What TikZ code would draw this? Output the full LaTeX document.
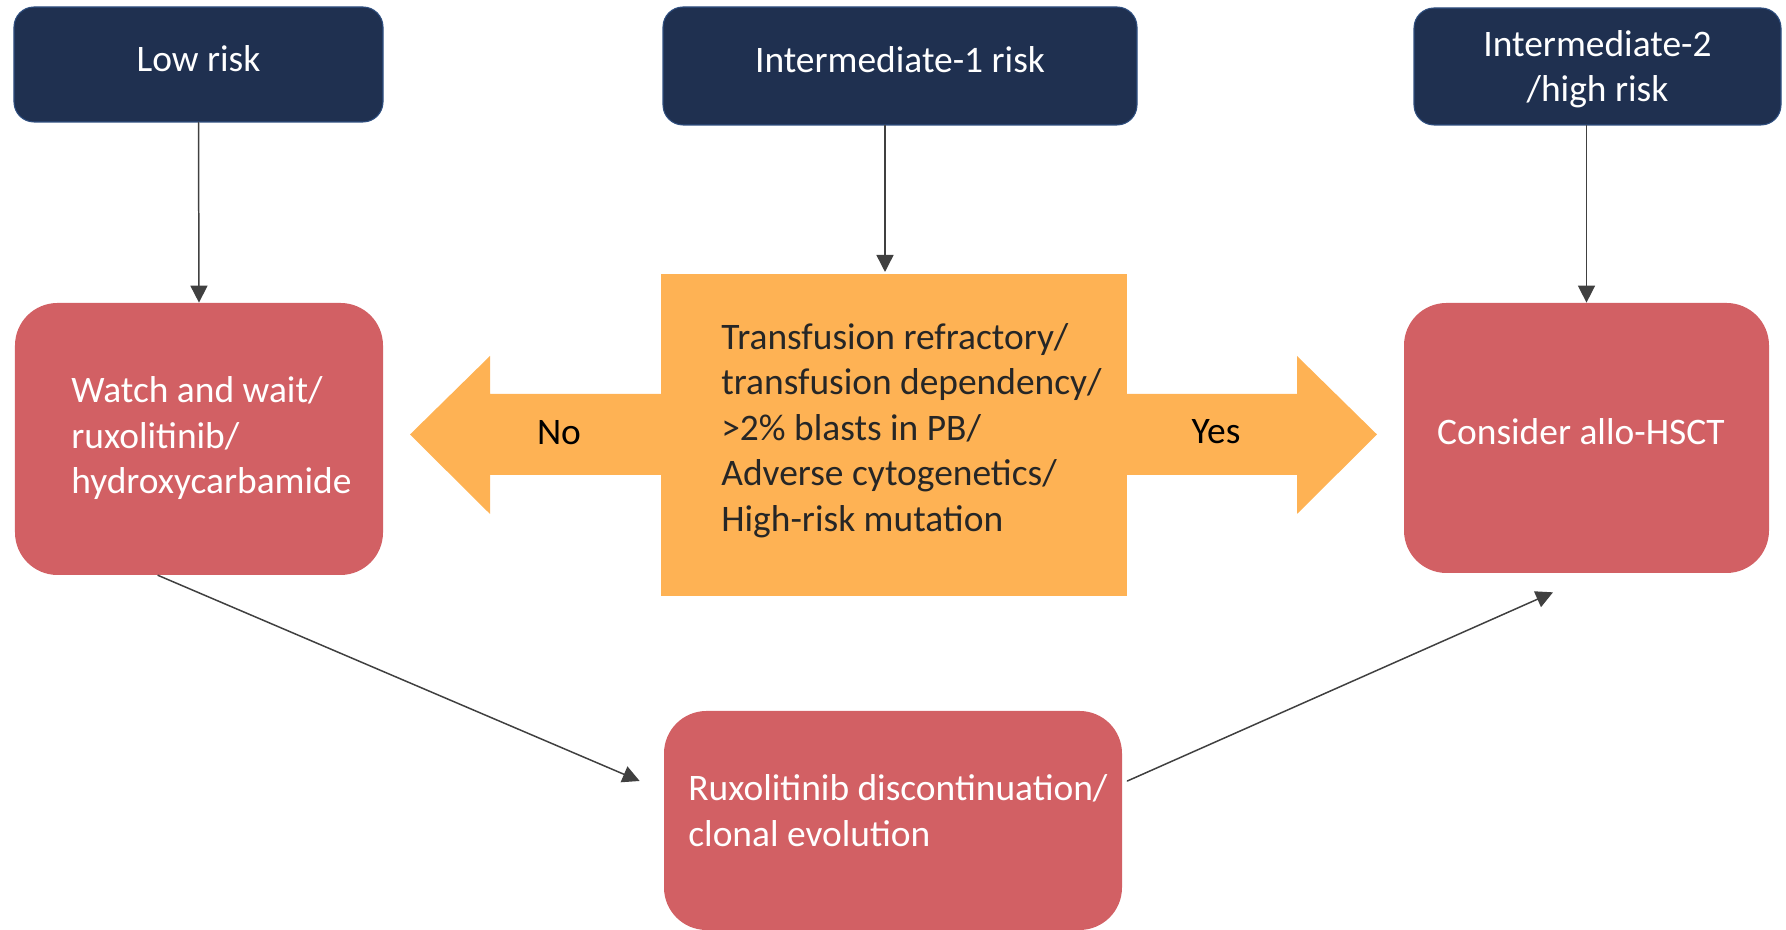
\documentclass[tikz,border=0pt]{standalone}
\usepackage{fontspec}
\setmainfont{Carlito}
\usepackage{tikz}
\usetikzlibrary{arrows.meta,calc}
\definecolor{navy}{HTML}{1F3050}
\definecolor{navyedge}{HTML}{2F4F80}
\definecolor{redbox}{HTML}{D26064}
\definecolor{orangebox}{HTML}{FEB254}
\definecolor{linegray}{HTML}{404040}
\tikzset{
  riskbox/.style={rectangle,rounded corners=0.4cm,fill=navy,draw=navyedge,line width=0.6pt,
    text=white,align=center,inner sep=0pt},
  actbox/.style={rectangle,rounded corners=0.85cm,fill=redbox,text=white,align=center,inner sep=0pt},
  decbox/.style={rectangle,fill=orangebox,inner sep=0pt},
  conn/.style={->,draw=linegray,line width=0.85pt},
  bigarrow/.style={fill=orangebox}
}

\begin{document}
\begin{tikzpicture}[line cap=round,line join=round,>={Triangle[length=0.34cm,width=0.34cm]},x=1.0cm,y=1.0cm,
  font=\fontsize{21.3}{25.9}\selectfont]
\useasboundingbox (0,0) rectangle (35.72,18.6);
% risk groups
\node[riskbox,minimum width=7.38cm,minimum height=2.30cm,text depth=0.25cm] (low) at (3.97,17.31) {Low risk};
\node[riskbox,minimum width=9.48cm,minimum height=2.36cm,text depth=0.25cm] (int1) at (18.0,17.28) {Intermediate-1 risk};
\node[riskbox,minimum width=7.34cm,minimum height=2.34cm] (int2) at (31.95,17.27) {\\[-0.28cm]Intermediate-2\\/high risk};
% yes / no arrows
\fill[bigarrow] (13.22,10.72) -- (9.8,10.72) -- (9.8,11.48) -- (8.2,9.91) -- (9.8,8.32) -- (9.8,9.1) -- (13.22,9.1) -- cycle;
\fill[bigarrow] (22.52,10.72) -- (25.94,10.72) -- (25.94,11.48) -- (27.54,9.91) -- (25.94,8.32) -- (25.94,9.1) -- (22.52,9.1) -- cycle;
\node (no) at (11.18,9.94) {No};
\node (yes) at (24.32,9.96) {Yes};
% boxes
\node[actbox,minimum width=7.36cm,minimum height=5.44cm] (watch) at (3.98,9.82) {};
\node[decbox,minimum width=9.32cm,minimum height=6.44cm] (dec) at (17.88,9.9) {};
\node[actbox,minimum width=7.3cm,minimum height=5.4cm] (hsct) at (31.73,9.84) {};
\node[actbox,minimum width=9.16cm,minimum height=4.38cm] (ruxo) at (17.86,2.19) {};
% texts
\node[text=white,align=left,anchor=west,inner sep=0pt] (watchtxt) at (1.42,9.83)
  {Watch and wait/\\ruxolitinib/\\hydroxycarbamide};
\node[text=black!85,align=left,anchor=west,inner sep=0pt] (dectxt) at (14.42,9.99)
  {Transfusion refractory/\\transfusion dependency/\\>2\% blasts in PB/\\Adverse cytogenetics/\\High-risk mutation};
\node[text=white,inner sep=0pt] (hscttxt) at (31.62,9.96) {Consider allo-HSCT};
\node[text=white,align=left,anchor=west,inner sep=0pt] (ruxotxt) at (13.76,2.39)
  {Ruxolitinib discontinuation/\\clonal evolution};
% connectors
\coordinate (i1) at (17.7,13.16);
\draw[conn] (low.south) -- (watch.north);
\draw[conn] (int1.south -| i1) -- (i1);
\draw[conn] (int2.south -| hsct.north) -- (hsct.north);
\draw[conn] ($(watch.south)+(-0.82,0)$) -- ($(ruxo.west)+(-0.48,0.79)$);
\draw[conn] ($(ruxo.east)+(0.1,0.79)$) -- ($(hsct.south)+(-0.67,-0.38)$);
\end{tikzpicture}
\end{document}
